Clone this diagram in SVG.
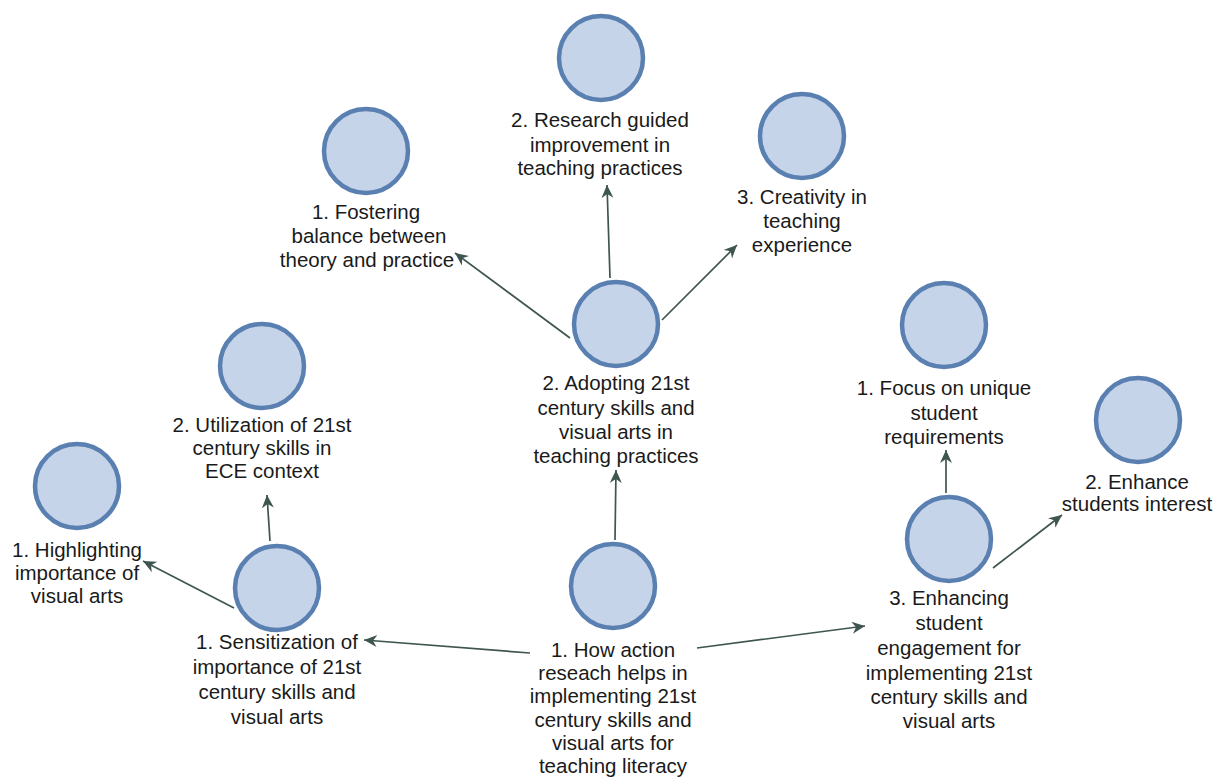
<svg xmlns="http://www.w3.org/2000/svg" width="1226" height="778" viewBox="0 0 1226 778">
<defs>
<style>
.c{fill:#c5d4e9;stroke:#5a7fb1;stroke-width:4.5}
.t{font-family:"Liberation Sans",Arial,sans-serif;font-size:20.5px;fill:#1a1a1a;text-anchor:middle}
.e{stroke:#3f5550;stroke-width:1.7;fill:none;marker-end:url(#ah)}
</style>
<marker id="ah" markerUnits="userSpaceOnUse" markerWidth="16" markerHeight="14" refX="13" refY="6" orient="auto">
<path d="M0,0 L13,6 L0,12 L4,6 z" fill="#3f5550"/>
</marker>
</defs>
<rect width="1226" height="778" fill="#ffffff"/>
<g id="connectors">
<line class="e" x1="530" y1="653" x2="364" y2="640"/>
<line class="e" x1="697" y1="648" x2="865" y2="626"/>
<line class="e" x1="615" y1="540" x2="616" y2="470"/>
<line class="e" x1="234" y1="608" x2="143" y2="561"/>
<line class="e" x1="270" y1="541" x2="267" y2="495"/>
<line class="e" x1="570" y1="338" x2="455" y2="253"/>
<line class="e" x1="610" y1="278" x2="607" y2="185"/>
<line class="e" x1="662" y1="320" x2="737" y2="245"/>
<line class="e" x1="946" y1="493" x2="946" y2="450"/>
<line class="e" x1="993" y1="568" x2="1062" y2="515"/>
</g>
<g id="n-root">
<circle class="c" cx="613" cy="586" r="42"/>
<text class="t"><tspan x="613" y="657">1. How action</tspan><tspan x="613" y="680">reseach helps in</tspan><tspan x="613" y="703">implementing 21st</tspan><tspan x="613" y="727">century skills and</tspan><tspan x="613" y="750">visual arts for</tspan><tspan x="613" y="773">teaching literacy</tspan></text>
</g>
<g id="n-sens">
<circle class="c" cx="277" cy="588" r="42"/>
<text class="t"><tspan x="277" y="649">1. Sensitization of</tspan><tspan x="277" y="674">importance of 21st</tspan><tspan x="277" y="699">century skills and</tspan><tspan x="277" y="724">visual arts</tspan></text>
</g>
<g id="n-high">
<circle class="c" cx="77" cy="486" r="42"/>
<text class="t"><tspan x="77" y="557">1. Highlighting</tspan><tspan x="77" y="580">importance of</tspan><tspan x="77" y="603">visual arts</tspan></text>
</g>
<g id="n-util">
<circle class="c" cx="262" cy="366" r="42"/>
<text class="t"><tspan x="262" y="432">2. Utilization of 21st</tspan><tspan x="262" y="455">century skills in</tspan><tspan x="262" y="478">ECE context</tspan></text>
</g>
<g id="n-adopt">
<circle class="c" cx="616" cy="324" r="42"/>
<text class="t"><tspan x="616" y="390">2. Adopting 21st</tspan><tspan x="616" y="415">century skills and</tspan><tspan x="616" y="439">visual arts in</tspan><tspan x="616" y="463">teaching practices</tspan></text>
</g>
<g id="n-fost">
<circle class="c" cx="366" cy="151" r="42"/>
<text class="t"><tspan x="366" y="219">1. Fostering</tspan><tspan x="369" y="243">balance between</tspan><tspan x="367" y="267">theory and practice</tspan></text>
</g>
<g id="n-research">
<circle class="c" cx="601" cy="58" r="42"/>
<text class="t"><tspan x="600" y="127">2. Research guided</tspan><tspan x="600" y="152">improvement in</tspan><tspan x="600" y="175">teaching practices</tspan></text>
</g>
<g id="n-creat">
<circle class="c" cx="802" cy="136" r="42"/>
<text class="t"><tspan x="802" y="204">3. Creativity in</tspan><tspan x="802" y="228">teaching</tspan><tspan x="802" y="252">experience</tspan></text>
</g>
<g id="n-eng">
<circle class="c" cx="949" cy="539" r="42"/>
<text class="t"><tspan x="949" y="605">3. Enhancing</tspan><tspan x="949" y="630">student</tspan><tspan x="949" y="655">engagement for</tspan><tspan x="949" y="680">implementing 21st</tspan><tspan x="949" y="704">century skills and</tspan><tspan x="949" y="728">visual arts</tspan></text>
</g>
<g id="n-focus">
<circle class="c" cx="944" cy="325" r="42"/>
<text class="t"><tspan x="944" y="395">1. Focus on unique</tspan><tspan x="944" y="420">student</tspan><tspan x="944" y="444">requirements</tspan></text>
</g>
<g id="n-interest">
<circle class="c" cx="1138" cy="420" r="42"/>
<text class="t"><tspan x="1137" y="489">2. Enhance</tspan><tspan x="1137" y="511">students interest</tspan></text>
</g>
</svg>
